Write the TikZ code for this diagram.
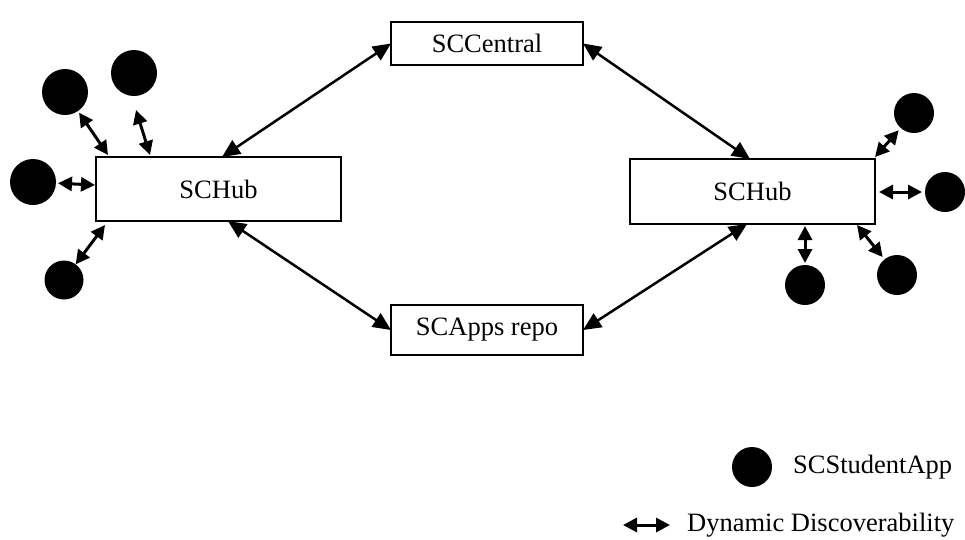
\documentclass[tikz,border=0pt]{standalone}
\usepackage{fontspec}
\setmainfont{Liberation Serif}
\usetikzlibrary{arrows.meta,calc}
\begin{document}
\begin{tikzpicture}[x=1pt,y=-1pt,
  box/.style={draw,line width=2.9pt,inner sep=0pt,outer sep=0pt,
    font=\fontsize{26.5}{30}\selectfont},
  app/.style={circle,fill=black,inner sep=0pt,outer sep=0pt,minimum size=#1},
  link/.style={line width=2.5pt,
    {Triangle[length=18pt,width=16pt]}-{Triangle[length=18pt,width=16pt]}},
  disc/.style={line width=3pt,
    {Triangle[length=14pt,width=14pt]}-{Triangle[length=14pt,width=14pt]}},
  legend/.style={font=\fontsize{26.5}{30}\selectfont,anchor=west,inner sep=0pt}]

\useasboundingbox (0,0) rectangle (965,539);

% central services and hubs
\node[box,minimum width=192pt,minimum height=43pt] (central) at (487,43.5) {SCCentral};
\node[box,minimum width=192pt,minimum height=50pt] (apps) at (487,330) {SCApps repo};
\node[box,minimum width=245pt,minimum height=64pt] (hubL) at (218.5,189) {SCHub};
\node[box,minimum width=245pt,minimum height=65pt] (hubR) at (752.5,191.5) {SCHub};

% attachment points on the hubs
\coordinate (hLtop) at (222,157);
\coordinate (hLbot) at (228,221);
\coordinate (hRtop) at (750,159);
\coordinate (hRbot) at (747,224);

\draw[link] (central.west) -- (hLtop);
\draw[link] (central.east) -- (hRtop);
\draw[link] (hLbot) -- (apps.west);
\draw[link] (apps.east) -- (hRbot);

% student apps around the left hub
\node[app=46pt] (c1) at (65,92) {};
\node[app=46pt] (c2) at (134,73) {};
\node[app=46pt] (c3) at (33,182) {};
\node[app=39pt] (c4) at (64,280) {};

\coordinate (e1) at (108,155);
\coordinate (e2) at (150,155);
\coordinate (e3) at (95,185);
\coordinate (e4) at (105,225);

\draw[disc,shorten <=2pt] (c1) -- (e1);
\draw[disc] ($(c2)+(2,37)$) -- (e2);
\draw[disc,shorten <=2pt] (c3) -- (e3);
\draw[disc] (c4) -- (e4);

% student apps around the right hub
\node[app=40pt] (d1) at (914,113) {};
\node[app=40pt] (d2) at (945,192) {};
\node[app=40pt] (d3) at (897,275) {};
\node[app=40pt] (d4) at (805,285) {};

\coordinate (f1) at (875,157);
\coordinate (f2) at (879,192);
\coordinate (f3) at (857,225);
\coordinate (f4) at (805,226);

\draw[disc,shorten <=3pt] (d1) -- (f1);
\draw[disc,shorten <=3pt] (d2) -- (f2);
\draw[disc,shorten <=3pt] (d3) -- (f3);
\draw[disc,shorten <=2pt] (d4) -- (f4);

% legend
\node[app=40pt] (lgApp) at (752,467) {};
\node[legend] (lgAppText) at (793,467) {SCStudentApp};
\coordinate (lgA) at (623,525);
\coordinate (lgB) at (670,525);
\draw[disc] (lgA) -- (lgB);
\node[legend] (lgDiscText) at (687,525) {Dynamic Discoverability};

\end{tikzpicture}
\end{document}
